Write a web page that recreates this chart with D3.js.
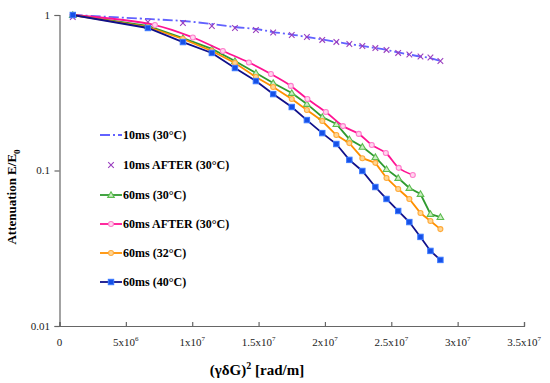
<!DOCTYPE html>
<html>
<head>
<meta charset="utf-8">
<script src="https://cdn.jsdelivr.net/npm/d3@7"></script>
<style>
  body { margin: 0; background: #fff; }
  text { font-family: "Liberation Serif", "Times New Roman", serif; }
</style>
</head>
<body>
<script>
var WIDTH = 550;
var HEIGHT = 383;

// x positions, in rad/m (x 1e6)
var xs60 = [1.0, 6.66, 9.3, 11.48, 13.22, 14.8, 16.1, 17.5, 18.64, 19.8, 20.86, 21.84, 22.82, 23.8, 24.64, 25.52, 26.36, 27.2, 27.95, 28.7];
var xsAfter60 = [1.0, 7.19, 10.05, 12.31, 14.27, 15.93, 17.43, 18.68, 20.07, 21.36, 22.55, 23.53, 24.59, 25.56, 26.62];

var y10ms = [1.0, 0.943, 0.915, 0.875, 0.837, 0.813, 0.777, 0.749, 0.722, 0.696, 0.671, 0.651, 0.632, 0.613, 0.596, 0.574, 0.557, 0.541, 0.529, 0.506];
var y10msAfter = [0.971, 0.902, 0.888, 0.850, 0.825, 0.801, 0.772, 0.744, 0.722, 0.691, 0.671, 0.651, 0.632, 0.613, 0.596, 0.570, 0.557, 0.541, 0.533, 0.506];
var y60ms30 = [1.0, 0.850, 0.711, 0.605, 0.506, 0.424, 0.365, 0.315, 0.268, 0.221, 0.199, 0.159, 0.142, 0.122, 0.102, 0.0895, 0.0772, 0.0706, 0.0525, 0.0502];
var y60msAfter = [1.0, 0.862, 0.717, 0.587, 0.495, 0.417, 0.350, 0.288, 0.238, 0.193, 0.172, 0.146, 0.1296, 0.104, 0.0936];
var y60ms32 = [1.0, 0.837, 0.701, 0.587, 0.491, 0.399, 0.344, 0.288, 0.245, 0.208, 0.169, 0.150, 0.120, 0.112, 0.0895, 0.0760, 0.0656, 0.0533, 0.0473, 0.0420];
var y60ms40 = [1.0, 0.825, 0.670, 0.570, 0.456, 0.376, 0.310, 0.256, 0.211, 0.174, 0.148, 0.117, 0.0993, 0.0783, 0.0656, 0.0549, 0.0466, 0.0374, 0.0304, 0.0266];

var xTickValues = [0, 5e6, 1e7, 1.5e7, 2e7, 2.5e7, 3e7, 3.5e7];
var xTickMant = ["0", "5x10", "1x10", "1.5x10", "2x10", "2.5x10", "3x10", "3.5x10"];
var xTickExp = ["", "6", "7", "7", "7", "7", "7", "7"];
var yTickValues = [0.01, 0.1, 1];
var yTickLabels = ["0.01", "0.1", "1"];

var seriesNames = ["10ms (30\u00B0C)", "10ms AFTER (30\u00B0C)", "60ms (30\u00B0C)", "60ms AFTER (30\u00B0C)", "60ms (32\u00B0C)", "60ms (40\u00B0C)"];

var series = [
  { name: seriesNames[0], xs: xs60, ys: y10ms, line: "#6262ff", dash: "10,3,2,3", marker: null, curve: d3.curveCatmullRom },
  { name: seriesNames[1], xs: xs60, ys: y10msAfter, line: null, marker: "cross", mStroke: "#9a3fbf", mFill: "none" },
  { name: seriesNames[2], xs: xs60, ys: y60ms30, line: "#2f9a2f", marker: "triangle", mStroke: "#5cbc50", mFill: "#cdeec5" },
  { name: seriesNames[3], xs: xsAfter60, ys: y60msAfter, line: "#ff1493", marker: "circle", mStroke: "#ff7ccb", mFill: "#ffd6ee", curve: d3.curveCatmullRom },
  { name: seriesNames[4], xs: xs60, ys: y60ms32, line: "#ff9000", marker: "circle", mStroke: "#ffaa3a", mFill: "#ffd593" },
  { name: seriesNames[5], xs: xs60, ys: y60ms40, line: "#10108a", marker: "square", mStroke: "#3a78ff", mFill: "#1750e6" }
];

var canvas = d3.select("body")
    .append("svg")
    .attr("width", WIDTH)
    .attr("height", HEIGHT);

var x = d3.scaleLinear().domain([0, 3.5e7]).range([59.5, 524]);
var y = d3.scaleLog().domain([0.01, 1]).range([326, 15]);

// axes
var xAxis = canvas.append("g")
    .attr("transform", "translate(0," + y(0.01) + ")")
    .call(d3.axisBottom(x).tickValues(xTickValues).tickSize(-4).tickFormat(""));
var yAxis = canvas.append("g")
    .attr("transform", "translate(" + x(0) + ",0)")
    .call(d3.axisLeft(y).tickValues(yTickValues).tickSize(5).tickFormat(""));
[xAxis, yAxis].forEach(function(a) {
    a.selectAll("path, line").attr("stroke", "#666").attr("stroke-width", 1.2);
});

// x tick labels with superscripts
xTickValues.forEach(function(v, i) {
    var t = canvas.append("text")
        .attr("x", x(v))
        .attr("y", 346)
        .attr("text-anchor", "middle")
        .attr("font-size", "11px")
        .attr("fill", "#222");
    t.append("tspan").text(xTickMant[i]);
    if (xTickExp[i]) {
        t.append("tspan").attr("dy", -5).attr("font-size", "7px").text(xTickExp[i]);
    }
});

yTickValues.forEach(function(v, i) {
    canvas.append("text")
        .attr("x", 50)
        .attr("y", y(v))
        .attr("dy", ".35em")
        .attr("text-anchor", "end")
        .attr("font-size", "11px")
        .attr("fill", "#222")
        .text(yTickLabels[i]);
});

// axis titles
var xt = canvas.append("text")
    .attr("x", 257)
    .attr("y", 375)
    .attr("text-anchor", "middle")
    .attr("font-size", "15px")
    .attr("font-weight", "bold");
xt.append("tspan").text("(\u03B3\u03B4G)");
xt.append("tspan").attr("dy", -6).attr("font-size", "10px").text("2");
xt.append("tspan").attr("dy", 6).text(" [rad/m]");

var yt = canvas.append("text")
    .attr("transform", "translate(16,197) rotate(-90)")
    .attr("text-anchor", "middle")
    .attr("font-size", "13px")
    .attr("font-weight", "bold");
yt.append("tspan").text("Attenuation E/E");
yt.append("tspan").attr("dy", 4).attr("font-size", "9px").text("0");

function drawMarker(g, type, cx, cy, stroke, fill) {
    if (type === "square") {
        g.append("rect").attr("x", cx - 2.7).attr("y", cy - 2.7).attr("width", 5.4).attr("height", 5.4)
            .attr("fill", fill).attr("stroke", stroke).attr("stroke-width", 1);
    } else if (type === "circle") {
        g.append("circle").attr("cx", cx).attr("cy", cy).attr("r", 2.5)
            .attr("fill", fill).attr("stroke", stroke).attr("stroke-width", 1.1);
    } else if (type === "triangle") {
        g.append("path").attr("d", "M" + cx + "," + (cy - 3.2) + "L" + (cx + 3.3) + "," + (cy + 2.4) + "L" + (cx - 3.3) + "," + (cy + 2.4) + "Z")
            .attr("fill", fill).attr("stroke", stroke).attr("stroke-width", 1.1);
    } else if (type === "cross") {
        g.append("path").attr("d", "M" + (cx - 2.8) + "," + (cy - 2.8) + "L" + (cx + 2.8) + "," + (cy + 2.8) + "M" + (cx + 2.8) + "," + (cy - 2.8) + "L" + (cx - 2.8) + "," + (cy + 2.8))
            .attr("stroke", stroke).attr("stroke-width", 1.1);
    }
}

// series
series.forEach(function(s) {
    var pts = s.xs.map(function(v, i) { return [v * 1e6, s.ys[i]]; });
    var g = canvas.append("g");
    if (s.line) {
        var lineGen = d3.line()
            .x(function(d) { return x(d[0]); })
            .y(function(d) { return y(d[1]); })
            .curve(s.curve || d3.curveLinear);
        g.append("path")
            .datum(pts)
            .attr("d", lineGen)
            .attr("fill", "none")
            .attr("stroke", s.line)
            .attr("stroke-width", 1.8)
            .attr("stroke-dasharray", s.dash || null);
    }
    if (s.marker) {
        pts.forEach(function(d) {
            drawMarker(g, s.marker, x(d[0]), y(d[1]), s.mStroke, s.mFill);
        });
    }
});

// legend
var legendY = [135, 165, 195, 224, 253, 282];
series.forEach(function(s, i) {
    var g = canvas.append("g");
    var ly = legendY[i];
    if (s.line) {
        g.append("line").attr("x1", 100).attr("x2", 122).attr("y1", ly).attr("y2", ly)
            .attr("stroke", s.line).attr("stroke-width", 1.8)
            .attr("stroke-dasharray", s.dash || null);
    }
    if (s.marker) {
        drawMarker(g, s.marker, 111, ly, s.mStroke, s.mFill);
    }
    g.append("text")
        .attr("x", 123)
        .attr("y", ly)
        .attr("dy", ".35em")
        .attr("font-size", "12px")
        .attr("font-weight", "bold")
        .text(s.name);
});
</script>
</body>
</html>
